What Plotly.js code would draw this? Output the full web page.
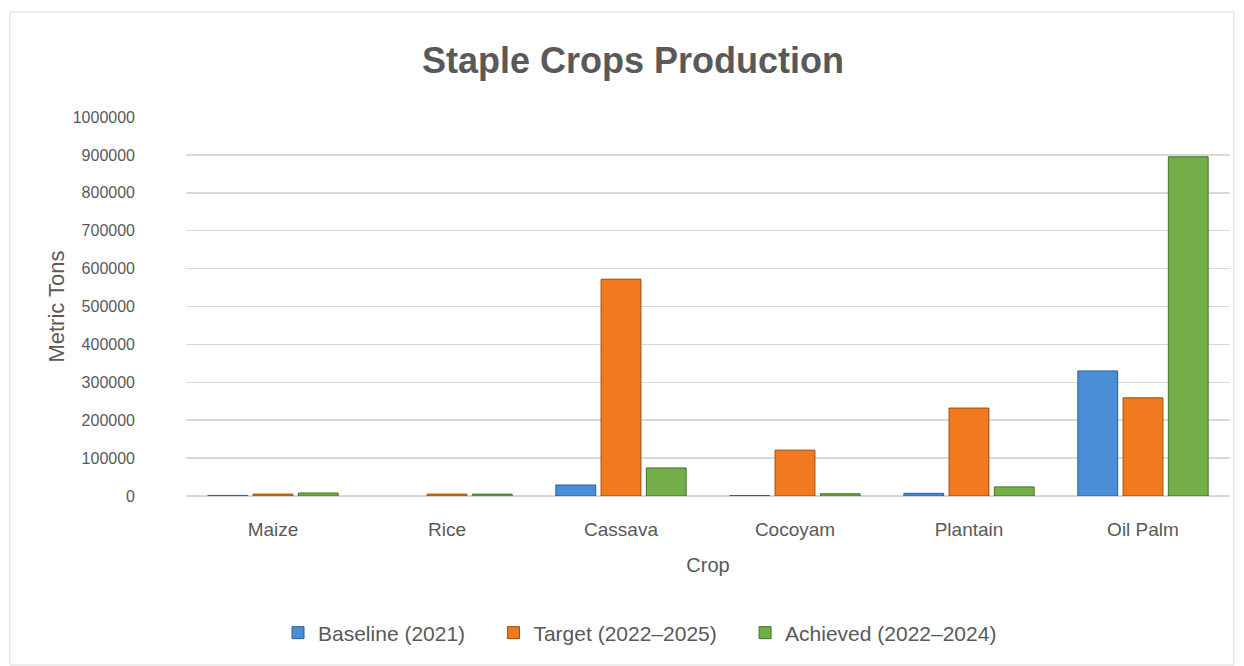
<!DOCTYPE html>
<html>
<head>
<meta charset="utf-8">
<script src="https://cdn.plot.ly/plotly-3.0.1.min.js"></script>
<style>html,body{margin:0;padding:0;background:#fff;}#chart{width:1244px;height:666px;}</style>
</head>
<body>
<div id="chart"></div>
<script>
const crops = ["Maize", "Rice", "Cassava", "Cocoyam", "Plantain", "Oil Palm"];
const baseline = [1500, null, 29000, 1000, 7000, 330000];
const target = [5000, 5000, 572000, 121000, 232000, 259000];
const achieved = [8000, 5000, 74000, 6000, 24000, 895000];
const seriesNames = ["Baseline (2021)", "Target (2022\u20132025)", "Achieved (2022\u20132024)"];
const yTicks = [0, 100000, 200000, 300000, 400000, 500000, 600000, 700000, 800000, 900000, 1000000];

const fontFam = "Liberation Sans, Arial, sans-serif";
const grey = "#595959";
const pad = "\u00a0\u00a0\u00a0\u00a0";

function bar(y, name, color, line) {
  return {
    type: "bar", x: crops, y: y, name: name,
    marker: {color: color, line: {color: line, width: 1}},
    hoverinfo: "x+y+name"
  };
}

const data = [
  bar(baseline, seriesNames[0] + pad, "#4A8FD6", "#2A5F95"),
  bar(target, seriesNames[1] + pad, "#F27A1E", "#9A4A0E"),
  bar(achieved, seriesNames[2], "#73AE48", "#44702A")
];

const L = 186, R = 14, T = 117, B = 170, W = 1244, H = 666;
const pw = W - L - R, ph = H - T - B;
const px = p => (p - L) / pw;
const py = p => (H - B - p) / ph;

const layout = {
  width: W, height: H,
  margin: {l: L, r: R, t: T, b: B},
  paper_bgcolor: "#fff", plot_bgcolor: "#fff",
  font: {family: fontFam, color: grey, size: 16},
  title: {text: "<b>Staple Crops Production</b>", font: {size: 36, color: grey, family: fontFam},
          x: px(633), xref: "paper", xanchor: "center", y: 1 - 60 / H, yref: "container", yanchor: "middle"},
  barmode: "group", bargap: 0.22, bargroupgap: 0.12,
  xaxis: {
    showgrid: false, zeroline: false, showline: false, ticks: "",
    tickfont: {size: 19, color: grey}, ticklabelstandoff: 20,
    title: {text: "Crop", font: {size: 20, color: grey}, standoff: 18}
  },
  yaxis: {
    range: [0, 1000000], tickvals: yTicks, ticktext: yTicks.map(String),
    showgrid: true, gridcolor: "#d9d9d9", gridwidth: 1.5,
    zeroline: true, zerolinecolor: "#d9d9d9", zerolinewidth: 1.5,
    showline: false, ticks: "", ticklabelstandoff: 50,
    tickfont: {size: 16, color: grey},
    title: {text: "Metric Tons", font: {size: 22, color: grey}, standoff: 2}
  },
  legend: {
    orientation: "h", x: px(640), xanchor: "center", y: py(633), yanchor: "middle",
    font: {size: 21, color: grey}, itemwidth: 30, traceorder: "normal"
  },
  showlegend: true,
  shapes: [{
    type: "rect", xref: "paper", yref: "paper",
    x0: px(10), x1: px(1234), y0: py(665), y1: py(12),
    line: {color: "#d9d9d9", width: 1}, fillcolor: "rgba(0,0,0,0)", layer: "below"
  }]
};

Plotly.newPlot("chart", data, layout, {displayModeBar: false, staticPlot: true});
</script>
</body>
</html>
